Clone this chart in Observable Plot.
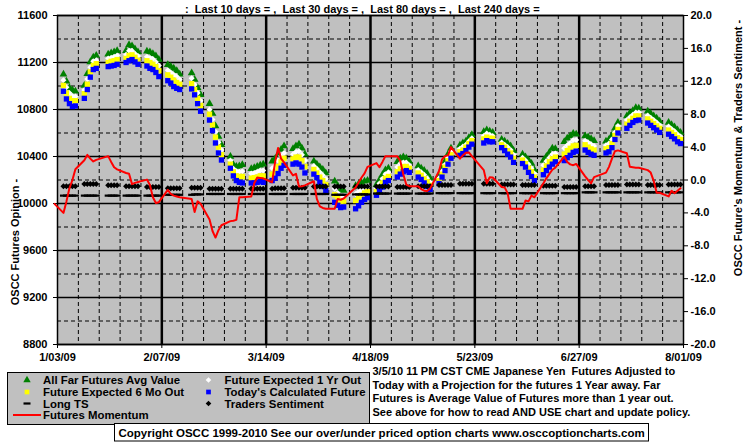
<!DOCTYPE html>
<html><head><meta charset="utf-8">
<script src="https://cdn.jsdelivr.net/npm/d3@7"></script>
<script src="https://cdn.jsdelivr.net/npm/@observablehq/plot@0.6"></script>
<style>
body{margin:0;background:#fff;}
svg text{font-family:"Liberation Sans",Arial,sans-serif;font-weight:bold;white-space:pre;}
</style>
</head><body><div id="chart"></div>
<script>
// ---- categories / dates ----
const firstDay = "2009-01-05", lastDay = "2009-07-31";
const holidays = ["2009-01-19","2009-02-16","2009-04-10","2009-05-25","2009-07-03"];
const momentumFirstDate = "2009-01-02";
const xTickDates = ["2009-01-03","2009-02-07","2009-03-14","2009-04-18","2009-05-23","2009-06-27","2009-08-01"];
const leftTicks = [8800,9200,9600,10000,10400,10800,11200,11600];
const leftMinor = [9000,9400,9800,10200,10600,11000,11400];
const rightTicks = [-20,-16,-12,-8,-4,0,4,8,12,16,20];

// ---- series (one value per trading day) ----
const todayFuture = [
10955,10890,10850,10825,10830, 10895,10970,11075,11140,11150, 11165,11170,11175,11185,
11200,11215,11225,11205,11185, 11170,11150,11140,11115,11080, 11045,11025,10995,10980,10970,
10975,10925,10850,10785, 10710,10620,10515,10430,10370, 10300,10235,10195,10180,10175,
10175,10175,10180,10190,10180, 10195,10215,10255,10300,10325, 10335,10345,10335,10310,10260,
10250,10220,10180,10145,10110, 10010,9985,9965,9970, 9955,9980,10010,10035,10050,
10070,10110,10140,10180,10195, 10225,10250,10270,10280,10265, 10225,10205,10175,10145,10120,
10170,10225,10280,10335,10385, 10410,10425,10450,10480,10505, 10515,10535,10525,10525,
10475,10450,10420,10395,10350, 10340,10310,10265,10230,10195, 10245,10280,10310,10335,10355,
10365,10390,10410,10435,10445, 10455,10435,10420,10410, 10430,10440,10475,10545,10600,
10640,10665,10690,10705,10710, 10685,10665,10645,10625,10605, 10590,10570,10550,10525,10510];
const sixMonth = [
11005,10940,10895,10875,10875, 10935,11015,11120,11175,11190, 11200,11210,11215,11225,
11235,11260,11265,11245,11220, 11215,11200,11185,11165,11130, 11095,11075,11050,11030,11015,
11020,10970,10895,10835, 10760,10670,10565,10480,10415, 10335,10270,10235,10230,10230,
10215,10220,10225,10235,10235, 10250,10270,10315,10355,10385, 10380,10395,10395,10365,10315,
10290,10260,10225,10195,10160, 10075,10045,10020,10020, 10025,10045,10070,10090,10100,
10100,10140,10175,10215,10230, 10270,10295,10315,10315,10300, 10260,10240,10210,10185,10155,
10195,10250,10310,10365,10415, 10440,10455,10480,10510,10535, 10550,10565,10555,10555,
10500,10480,10450,10430,10385, 10370,10340,10300,10270,10225, 10285,10320,10355,10380,10395,
10420,10450,10470,10490,10495, 10500,10480,10465,10455, 10465,10475,10510,10580,10630,
10675,10700,10725,10745,10745, 10720,10700,10680,10660,10640, 10625,10605,10585,10560,10545];
const oneYear = [
11050,10990,10940,10915,10910, 10965,11060,11160,11210,11220, 11235,11240,11250,11260,
11265,11300,11300,11275,11255, 11250,11240,11230,11205,11175, 11135,11115,11095,11080,11055,
11065,11010,10940,10875, 10800,10715,10610,10520,10455, 10365,10295,10275,10270,10275,
10255,10260,10270,10280,10280, 10300,10320,10365,10405,10430, 10420,10440,10445,10415,10365,
10320,10295,10265,10240,10210, 10125,10090,10065,10060, 10080,10100,10115,10135,10145,
10130,10170,10210,10250,10265, 10310,10340,10350,10350,10325, 10285,10265,10245,10215,10180,
10215,10275,10330,10390,10440, 10465,10485,10500,10530,10555, 10575,10595,10585,10575,
10520,10500,10480,10455,10415, 10390,10365,10335,10300,10255, 10325,10360,10390,10420,10425,
10470,10495,10515,10540,10540, 10535,10520,10505,10490, 10495,10510,10545,10605,10660,
10710,10735,10755,10775,10775, 10750,10730,10710,10690,10665, 10655,10635,10615,10590,10570];
const farAvg = [
11100,11040,10985,10965,10955, 11005,11105,11205,11245,11260, 11270,11280,11290,11300,
11300,11350,11340,11315,11290, 11295,11290,11275,11255,11225, 11180,11165,11150,11130,11100,
11110,11055,10985,10925, 10850,10765,10660,10570,10500, 10400,10330,10315,10320,10330,
10295,10305,10315,10325,10335, 10360,10380,10420,10460,10490, 10465,10490,10505,10470,10420,
10360,10335,10310,10290,10260, 10190,10150,10120,10110, 10150,10165,10175,10190,10195,
10160,10200,10245,10285,10300, 10355,10385,10395,10385,10360, 10320,10300,10280,10255,10215,
10240,10300,10360,10420,10470, 10495,10515,10530,10560,10585, 10610,10625,10615,10605,
10545,10530,10510,10490,10450, 10420,10395,10370,10340,10285, 10365,10400,10435,10470,10465,
10525,10555,10575,10595,10590, 10575,10565,10550,10535, 10530,10545,10580,10640,10690,
10745,10770,10790,10815,10810, 10785,10765,10745,10725,10700, 10690,10670,10650,10625,10605];
// right-axis series
const traderSentiment = [
-0.75,-0.75,-0.75,-0.75,-0.75, -0.5,-0.5,-0.5,-0.5,-0.5, -0.65,-0.65,-0.65,-0.65,
-0.75,-0.75,-0.75,-0.75,-0.75, -0.85,-0.85,-0.85,-0.85,-0.85, -1.0,-1.0,-1.0,-1.0,-1.0,
-0.95,-0.95,-0.95,-0.95, -1.05,-1.05,-1.05,-1.05,-1.05, -1.05,-1.05,-1.05,-1.05,-1.05,
-1.05,-1.05,-1.05,-1.05,-1.05, -1.05,-1.0,-1.0,-1.0,-1.0, -0.95,-0.95,-0.95,-0.95,-0.95,
-0.8,-0.8,-0.8,-0.8,-0.8, -0.8,-0.8,-0.8,-0.8, -0.8,-0.8,-0.8,-0.8,-0.8,
-0.8,-0.8,-0.8,-0.8,-0.8, -0.85,-0.85,-0.85,-0.85,-0.85, -0.75,-0.75,-0.75,-0.75,-0.75,
-0.6,-0.6,-0.6,-0.6,-0.6, -0.45,-0.45,-0.45,-0.45,-0.45, -0.45,-0.45,-0.45,-0.45,
-0.55,-0.55,-0.55,-0.55,-0.55, -0.6,-0.6,-0.6,-0.6,-0.6, -0.7,-0.7,-0.7,-0.7,-0.7,
-0.85,-0.85,-0.85,-0.85,-0.85, -0.75,-0.75,-0.75,-0.75, -0.6,-0.6,-0.6,-0.6,-0.6,
-0.55,-0.55,-0.55,-0.55,-0.55, -0.6,-0.6,-0.6,-0.6,-0.6, -0.55,-0.55,-0.55,-0.55,-0.55];
const longTS = [
-1.9,-1.9,-1.9,-1.9,-1.9, -1.9,-1.9,-1.9,-1.9,-1.9, -1.9,-1.9,-1.9,-1.9,
-1.9,-1.9,-1.9,-1.9,-1.9, -1.9,-1.9,-1.9,-1.9,-1.9, -1.8,-1.8,-1.8,-1.8,-1.8,
-1.8,-1.75,-1.75,-1.75, -1.7,-1.7,-1.7,-1.7,-1.7, -1.7,-1.7,-1.7,-1.7,-1.7,
-1.7,-1.7,-1.7,-1.7,-1.7, -1.7,-1.7,-1.7,-1.7,-1.7, -1.7,-1.7,-1.7,-1.7,-1.7,
-1.7,-1.7,-1.7,-1.7,-1.7, -1.8,-1.8,-1.8,-1.8, -1.75,-1.75,-1.75,-1.75,-1.75,
-1.65,-1.65,-1.65,-1.65,-1.65, -1.65,-1.65,-1.65,-1.65,-1.65, -1.65,-1.65,-1.65,-1.65,-1.65,
-1.6,-1.6,-1.6,-1.6,-1.6, -1.6,-1.6,-1.6,-1.6,-1.6, -1.6,-1.6,-1.6,-1.6,
-1.6,-1.6,-1.6,-1.6,-1.6, -1.6,-1.6,-1.6,-1.6,-1.6, -1.6,-1.6,-1.6,-1.6,-1.6,
-1.6,-1.6,-1.6,-1.6,-1.6, -1.5,-1.5,-1.5,-1.5, -1.5,-1.5,-1.5,-1.5,-1.5,
-1.5,-1.5,-1.5,-1.5,-1.5, -1.5,-1.5,-1.5,-1.5,-1.5, -1.5,-1.5,-1.5,-1.5,-1.5];
// momentum: first value is for 2009-01-02, then one per trading day
const momentum = [-2.9,
-4.0,-2.6,-1.0,0.0,1.3, 2.4,3.05,2.6,2.25,2.45, 2.9,2.2,1.55,1.3,
0.85,0.75,-0.5,-0.35,-0.25, 0.05,-0.6,-2.1,-2.8,-2.7, -1.2,-1.7,-1.9,-2.0,-2.1,
-2.3,-3.9,-2.6,-2.9, -4.8,-6.2,-7.0,-6.1,-5.5, -5.0,-4.95,-4.85,-2.1,-2.1,
-2.0,-0.4,0.3,0.25,0.2, -0.27,2.2,3.9,2.6,2.15, 0.55,0.75,-0.8,-0.75,-0.65,
-0.15,-2.3,-3.2,-3.4,-3.5, -3.5,-2.3,-2.4,-2.25, -0.9,-0.3,0.3,0.8,1.6,
2.05,1.55,2.2,2.9,2.9, 2.9,2.3,0.7,-0.55,-0.75, -0.75,-1.1,-1.3,-1.35,-1.05,
1.1,2.5,2.9,3.0,4.0, 2.6,3.0,3.3,3.35,2.9, 1.2,-0.4,0.33,0.3,
-0.85,-0.9,-1.6,-3.5,-3.5, -3.5,-2.5,-2.6,-1.9,-2.1, -0.4,0.2,0.75,1.25,1.5,
2.85,2.2,1.9,1.8,1.95, 0.45,0.0,-0.4,0.35, 0.9,1.6,2.6,3.5,3.6,
3.25,1.6,1.55,1.5,1.5, 1.2,0.9,-0.1,-1.55,-1.55, -2.0,-1.3,-1.6,-1.3,-1.0];

// ---- build tables ----
const dates = [];
for (let t = new Date(firstDay); t <= new Date(lastDay); t = new Date(+t + 864e5)) {
  const dow = t.getUTCDay(), s = t.toISOString().slice(0, 10);
  if (dow > 0 && dow < 6 && !holidays.includes(s)) dates.push(new Date(t));
}
const rows = dates.map((date, i) => ({date, blue: todayFuture[i], yellow: sixMonth[i], white: oneYear[i], green: farAvg[i], sent: traderSentiment[i], lts: longTS[i]}));
const momRows = [new Date(momentumFirstDate), ...dates].map((date, i) => ({date, v: momentum[i]}));

// right axis (-20..20) shares the left axis frame (8800..11600)
const toLeft = r => 10200 + r * 70;
const xTicks = xTickDates.map(d => new Date(d));
const weekly = d3.utcSaturday.range(new Date("2009-01-04"), new Date("2009-08-01")).filter(d => !xTicks.some(t => +t === +d));

const dashSymbol = {draw(ctx) { ctx.moveTo(-3.5, -1.1); ctx.lineTo(3.5, -1.1); ctx.lineTo(3.5, 1.1); ctx.lineTo(-3.5, 1.1); ctx.closePath(); }};
const fmtDate = d3.utcFormat("%-m/%d/%y");

const plot = Plot.plot({
  width: 755, height: 446,
  marginLeft: 57, marginRight: 72, marginTop: 15, marginBottom: 102,
  x: {type: "utc", domain: [xTicks[0], xTicks[xTicks.length - 1]]},
  y: {domain: [8800, 11600]},
  style: {fontFamily: "Liberation Sans, Arial, sans-serif", fontSize: "11px", fontWeight: "bold", background: "white", color: "black", overflow: "visible"},
  marks: [
    Plot.frame({fill: "#c0c0c0"}),
    Plot.ruleY(leftMinor, {stroke: "black", strokeDasharray: "4,3", strokeWidth: 1}),
    Plot.ruleX(weekly, {stroke: "black", strokeDasharray: "4,3", strokeWidth: 1}),
    Plot.ruleY(leftTicks, {stroke: "black", strokeWidth: 1.5}),
    Plot.ruleX(xTicks.slice(1, -1), {stroke: "black", strokeWidth: 2.5}),
    Plot.frame({stroke: "black", strokeWidth: 1.5}),
    Plot.axisY(leftTicks, {anchor: "left", tickSize: 4, tickPadding: 6, tickFormat: d => String(d), label: null}),
    Plot.axisY(rightTicks.map(toLeft), {anchor: "right", tickSize: 4, tickPadding: 3, tickFormat: v => ((v - 10200) / 70).toFixed(1), label: null}),
    Plot.axisX(xTicks, {anchor: "bottom", tickSize: 4, tickPadding: 5, tickFormat: fmtDate, label: null}),
    Plot.dot(rows, {x: "date", y: "green", symbol: "triangle", r: 2.9, fill: "#008000"}),
    Plot.dot(rows, {x: "date", y: "white", symbol: "diamond2", r: 2.7, fill: "#ffffff"}),
    Plot.dot(rows, {x: "date", y: "yellow", symbol: "square", r: 3, fill: "#ffff00"}),
    Plot.dot(rows, {x: "date", y: "blue", symbol: "square", r: 3, fill: "#0000ff"}),
    Plot.dot(rows, {x: "date", y: d => toLeft(d.lts), symbol: dashSymbol, r: 3, fill: "black"}),
    Plot.dot(rows, {x: "date", y: d => toLeft(d.sent), symbol: "diamond2", r: 2.7, fill: "black"}),
    Plot.line(momRows, {x: "date", y: d => toLeft(d.v), stroke: "#ff0000", strokeWidth: 2})
  ]
});
document.getElementById("chart").appendChild(plot);

// ---- titles, legend, notes ----
const svg = d3.select(plot);
const g = svg.append("g").attr("font-size", 11).attr("fill", "black").attr("text-anchor", "start");
g.append("text").attr("x", 185).attr("y", 13).text(":  Last 10 days = ,  Last 30 days = ,  Last 80 days = ,  Last 240 days =");
g.append("text").attr("transform", "translate(19,242) rotate(-90)").attr("text-anchor", "middle").text("OSCC Futures Opinion -");
g.append("text").attr("transform", "translate(741.5,148) rotate(-90)").attr("text-anchor", "middle").text("OSCC Future's Momentum & Traders Sentiment -");

g.append("rect").attr("x", 7.5).attr("y", 372.5).attr("width", 362).attr("height", 52).attr("fill", "#c0c0c0").attr("stroke", "black");
const legendItems = [
  {label: "All Far Futures Avg Value", col: 0, row: 0, sym: d3.symbolTriangle, size: 24, fill: "#008000"},
  {label: "Future Expected 1 Yr Out", col: 1, row: 0, sym: d3.symbolDiamond2, size: 20, fill: "#ffffff"},
  {label: "Future Expected 6 Mo Out", col: 0, row: 1, sym: d3.symbolSquare, size: 22, fill: "#ffff00"},
  {label: "Today's Calculated Future", col: 1, row: 1, sym: d3.symbolSquare, size: 22, fill: "#0000ff"},
  {label: "Long TS", col: 0, row: 2, sym: dashSymbol, size: 20, fill: "black"},
  {label: "Traders Sentiment", col: 1, row: 2, sym: d3.symbolDiamond2, size: 20, fill: "black"},
  {label: "Futures Momentum", col: 0, row: 3, sym: null}
];
const rowY = [380, 392, 403.5, 415];
for (const it of legendItems) {
  const mx = it.col ? 208.5 : 27, tx = it.col ? 224.5 : 43, y = rowY[it.row];
  if (it.sym) g.append("path").attr("d", d3.symbol(it.sym, it.size)()).attr("transform", `translate(${mx},${y})`).attr("fill", it.fill);
  else g.append("line").attr("x1", 13).attr("x2", 41).attr("y1", y).attr("y2", y).attr("stroke", "#ff0000").attr("stroke-width", 2);
  g.append("text").attr("x", tx).attr("y", y + 4).attr("font-size", 11.4).text(it.label);
}
const notes = [
  "3/5/10 11 PM CST CME Japanese Yen  Futures Adjusted to",
  "Today with a Projection for the futures 1 Year away. Far",
  "Futures is Average Value of Futures more than 1 year out.",
  "See above for how to read AND USE chart and update policy."
];
notes.forEach((t, i) => g.append("text").attr("x", 372.5).attr("y", 375 + i * 13.7).text(t));
g.append("rect").attr("x", 114.5).attr("y", 423.5).attr("width", 534).attr("height", 17.5).attr("fill", "white").attr("stroke", "black");
g.append("text").attr("x", 118.5).attr("y", 436.5).attr("font-size", 11.5).text("Copyright OSCC 1999-2010 See our over/under priced option charts www.osccoptioncharts.com");
</script>
</body></html>
